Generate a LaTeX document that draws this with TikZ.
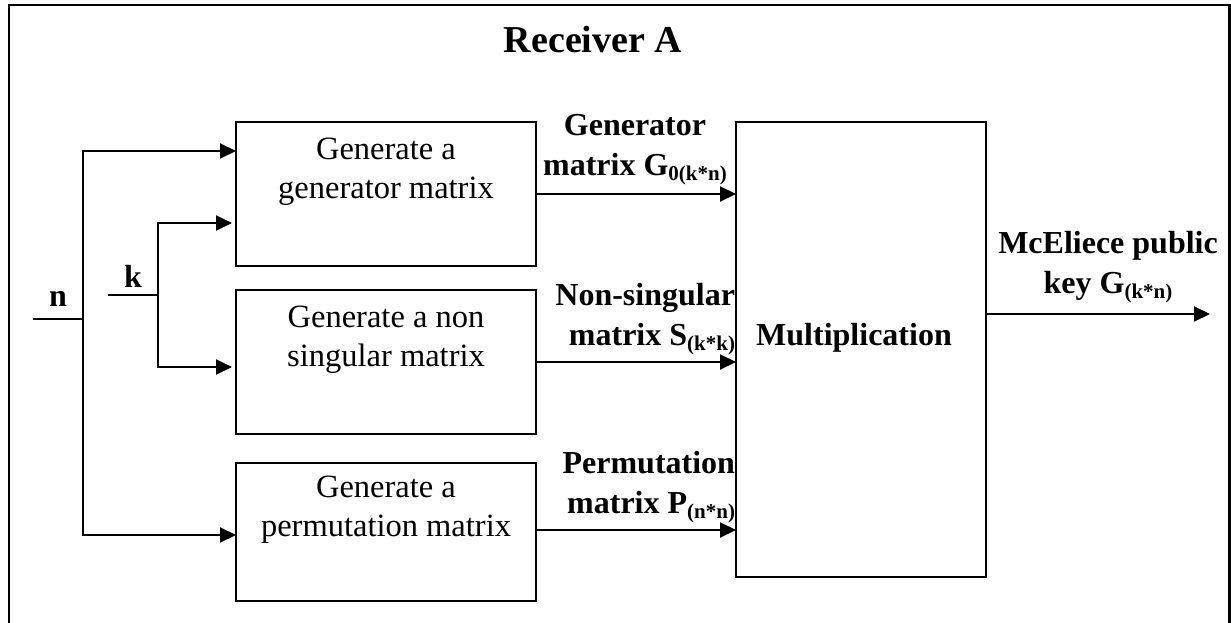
\documentclass[tikz,border=0pt]{standalone}
\usepackage{fontspec}
\setmainfont{Liberation Serif}
\usetikzlibrary{arrows.meta}
\newcommand\subtxt[1]{\raisebox{-5pt}{\fontsize{21}{21}\selectfont\bfseries #1}}
\begin{document}
\begin{tikzpicture}[x=1pt,y=-1pt,
  line width=2pt,
  every node/.style={inner sep=0pt, outer sep=0pt},
  blockbox/.style={draw, line width=2pt, minimum width=300pt, minimum height=144pt},
  plain/.style={font=\fontsize{32.5}{39}\selectfont, align=center},
  lbl/.style={font=\fontsize{32}{40}\selectfont\bfseries},
  arr/.style={-{Triangle[length=16pt,width=15pt]}}
]
\useasboundingbox (0,0) rectangle (1231,623);
% frame
\draw[line width=2.5pt] (9,623) -- (9,5) -- (1229.5,5) -- (1229.5,623);
\node[font=\fontsize{38}{44}\selectfont\bfseries] (title) at (593,40) {Receiver A};

% blocks
\node[blockbox] (b1) at (386,194) {};
\node[blockbox] (b2) at (386,362) {};
\node[blockbox, minimum height=138pt] (b3) at (386,532) {};
\node[draw, line width=2pt, minimum width=250pt, minimum height=455pt] (mult) at (861,349.5) {};

\node[plain] (t1) at (386,172) {Generate a\\generator matrix};
\node[plain] (t2) at (386,340) {Generate a non\\singular matrix};
\node[plain] (t3) at (386,510) {Generate a\\permutation matrix};
\node[lbl] (tm) at (854,338) {Multiplication};

% inputs
\coordinate (nin) at (33,319);
\coordinate (nj) at (83,319);
\coordinate (kin) at (108,295);
\coordinate (kj) at (158,295);
\node[lbl] (nl) at (58,299) {n};
\node[lbl] (kl) at (133,276) {k};
\draw (nin) -- (nj);
\draw[arr] (nj) |- ([yshift=43pt]b1.west);
\draw[arr] (nj) |- ([yshift=-3pt]b3.west);
\draw (kin) -- (kj);
\draw[arr] (kj) |- ([yshift=-29pt,xshift=-4pt]b1.west);
\draw[arr] (kj) |- ([yshift=-5pt,xshift=-4pt]b2.west);

% to multiplication
\draw[arr] (b1.east) -- (b1.east -| mult.west);
\draw[arr] (b2.east) -- (b2.east -| mult.west);
\draw[arr] ([yshift=2pt]b3.east) -- ([yshift=2pt]b3.east -| mult.west);

\node[lbl, align=center] (lg) at (635,150) {Generator\\matrix G\subtxt{0(k*n)}};
\node[lbl, align=right, anchor=east] (ls) at (735,319) {Non-singular\\matrix S\subtxt{(k*k)}};
\node[lbl, align=right, anchor=east] (lp) at (735,487) {Permutation\\matrix P\subtxt{(n*n)}};

% output
\coordinate (out) at (1210,314);
\draw[arr] ([yshift=35.5pt]mult.east) -- (out);
\node[lbl, align=center] (lo) at (1108,267) {McEliece public\\key G\subtxt{(k*n)}};
\end{tikzpicture}
\end{document}
